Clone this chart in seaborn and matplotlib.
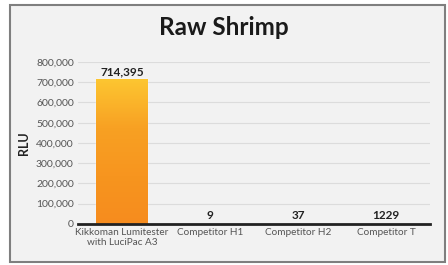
import numpy as np
import pandas as pd
import seaborn as sns
import matplotlib.pyplot as plt
from matplotlib.patches import Rectangle
from matplotlib.ticker import FuncFormatter

categories = ["Kikkoman Lumitester\nwith LuciPac A3", "Competitor H1", "Competitor H2", "Competitor T"]
rlu = [714395, 9, 37, 1229]
value_labels = ["714,395", "9", "37", "1229"]
bar_colors = ["#f7941d", "#c0392b", "#444444", "#555555"]

sns.set_theme(style="white")
plt.rcParams["font.family"] = ["Lato", "DejaVu Sans"]

fig = plt.figure(figsize=(4.48, 2.65), dpi=100)
fig.patch.set_facecolor("white")
# grey panel with frame, kept behind the axes
fig.patches.append(Rectangle((10 / 448, 3 / 265), 435 / 448, 257 / 265, transform=fig.transFigure,
                             facecolor="#f2f2f2", edgecolor="#7f7f7f", linewidth=1.5, zorder=-10))

ax = fig.add_axes([0.174, 0.155, 0.786, 0.611])
ax.set_facecolor("none")

df = pd.DataFrame({"cat": categories, "rlu": rlu})
sns.barplot(data=df, x="cat", y="rlu", hue="cat", palette=bar_colors, legend=False,
            width=0.58, ax=ax, zorder=3)

# gradient fill on the big bar (orange, turning yellow at the top)
bar = ax.patches[0]
grad = np.linspace(0, 1, 256).reshape(-1, 1)
cmap = sns.blend_palette(["#f68c1e", "#f7951f", "#f8a123", "#fdc631"], as_cmap=True)
x0, y0 = bar.get_x(), bar.get_y()
w, h = bar.get_width(), bar.get_height()
im = ax.imshow(grad, extent=[x0, x0 + w, y0, y0 + h], origin="lower", aspect="auto",
               cmap=cmap, zorder=4)
im.set_clip_path(bar)

ax.set_ylim(0, 800000)
ax.set_xlim(-0.5, 3.5)
ax.set_yticks(range(0, 800001, 100000))
ax.yaxis.set_major_formatter(FuncFormatter(lambda v, p: f"{int(v):,}"))
ax.grid(axis="y", color="#dcdcdc", linewidth=0.8, zorder=0)
for s in ["top", "right", "left"]:
    ax.spines[s].set_visible(False)
ax.spines["bottom"].set_color("#222222")
ax.spines["bottom"].set_linewidth(2)
ax.spines["bottom"].set_zorder(5)
ax.tick_params(axis="y", labelsize=7.5, colors="#555555", length=0, pad=3)
ax.tick_params(axis="x", labelsize=7.2, colors="#555555", length=0, pad=3)
ax.set_xlabel("")
ax.set_ylabel("RLU", fontsize=9, fontweight="bold", color="#222222", labelpad=4)

for i, (v, lab) in enumerate(zip(rlu, value_labels)):
    ax.text(i, v + 12000, lab, ha="center", va="bottom", fontsize=8.5,
            fontweight="bold", color="#222222", zorder=6)

fig.text(0.5, 0.895, "Raw Shrimp", ha="center", va="center", fontsize=17.5,
         fontweight="bold", color="#1a1a1a")

fig.savefig("out.png", dpi=100)
